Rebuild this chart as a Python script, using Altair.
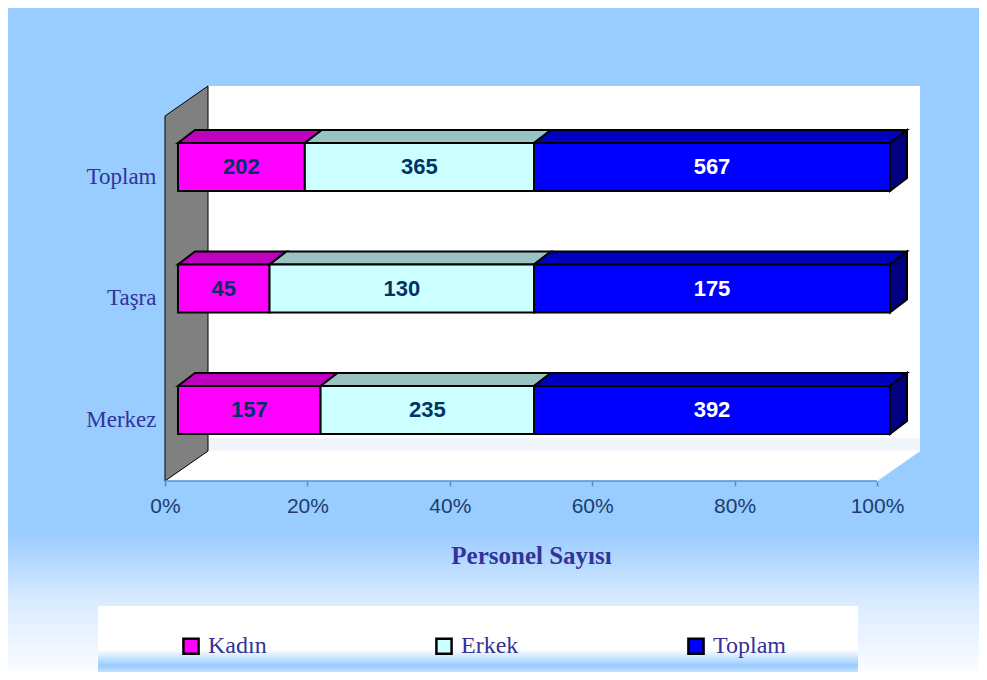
import json
import altair as alt
import pandas as pd

# ---------------- data ----------------
categories = ["Merkez", "Taşra", "Toplam"]
series = ["Kadın", "Erkek", "Toplam"]
kadin = [157, 45, 202]
erkek = [235, 130, 365]
toplam = [392, 175, 567]
x_ticks = [0, 0.2, 0.4, 0.6, 0.8, 1.0]

front_colors = ["#FF00FF", "#CCFFFF", "#0000FF"]
top_colors = ["#BF00BF", "#99C2C2", "#0000BF"]
side_color = "#000080"
label_colors = ["#003366", "#003366", "#FFFFFF"]

# ---------------- layout (pixels) ----------------
W, H = 971, 664
X0_PX = 157          # pixel of 0 %
PX_X = 712           # pixels per 100 %
CAT0_PX = 402        # pixel of first category centre
PX_Y = 121.5         # pixels between categories

x_dom = [-X0_PX / PX_X, (W - X0_PX) / PX_X]
y_dom = [(CAT0_PX - H) / PX_Y, CAT0_PX / PX_Y]


def dxu(px):
    return px / PX_X


def dyu(px):
    return px / PX_Y


DX, DY = dxu(43), dyu(30)        # wall depth
F = -dyu(71)                     # floor front
WT = dyu(324)                    # back wall top
BX = dxu(13)                     # bar front shift
BH = dyu(24)                     # bar half height
TX, TY = dxu(17), dyu(13)        # bar depth

xs = alt.Scale(domain=x_dom, nice=False, zero=False)
ys = alt.Scale(domain=y_dom, nice=False, zero=False)

SERIF = "Liberation Serif"
SANS = "Liberation Sans"
TXT = "#333399"

label_expr = json.dumps(categories, ensure_ascii=False) + "[datum.value]"

X_AXIS = alt.Axis(
    values=x_ticks, format=".0%", domain=False, grid=False,
    tickColor="#4A90D9", tickSize=5, tickWidth=1.5, offset=-(H - 473),
    labelFont=SANS, labelFontSize=21, labelColor="#1C3D6E", labelPadding=9,
    title="Personel Sayısı", titleFont=SERIF, titleFontSize=25,
    titleFontWeight="bold", titleColor=TXT, titleX=523, titleY=82,
    titleBaseline="alphabetic", zindex=1)
Y_AXIS = alt.Axis(
    values=list(range(len(categories))), labelExpr=label_expr,
    domain=False, ticks=False, tickSize=0, grid=False, labelPadding=0,
    offset=-148, labelFont=SERIF, labelFontSize=23, labelColor=TXT,
    labelOffset=9, title=None, zindex=1)

# ---------------- build tables ----------------
front_rows, poly_rows, lab_rows = [], [], []
for ci, cat in enumerate(categories):
    segs = [kadin[ci], erkek[ci], toplam[ci]]
    tot = sum(segs)
    cum = 0
    for si, s in enumerate(series):
        v = segs[si]
        a = cum / tot
        cum += v
        b = cum / tot
        front_rows.append(dict(category=cat, series=s, x1=a + BX, x2=b + BX,
                               y1=ci - BH, y2=ci + BH))
        lab_rows.append(dict(x=(a + b) / 2 + BX, y=ci, text=str(v), lc=label_colors[si]))
        pid = f"top-{ci}-{si}"
        pts = [(a + BX, ci + BH), (b + BX, ci + BH),
               (b + BX + TX, ci + BH + TY), (a + BX + TX, ci + BH + TY)]
        for k, (px, py) in enumerate(pts):
            poly_rows.append(dict(pid=pid, k=k, x=px, y=py, fill=top_colors[si]))
        if si == len(series) - 1:
            pid = f"side-{ci}"
            pts = [(b + BX, ci - BH), (b + BX + TX, ci - BH + TY),
                   (b + BX + TX, ci + BH + TY), (b + BX, ci + BH)]
            for k, (px, py) in enumerate(pts):
                poly_rows.append(dict(pid=pid, k=k, x=px, y=py, fill=side_color))

front_df = pd.DataFrame(front_rows)
poly_df = pd.DataFrame(poly_rows)
lab_df = pd.DataFrame(lab_rows)

floor_df = pd.DataFrame(dict(pid="floor", k=[0, 1, 2, 3],
                             x=[0, 1, 1 + DX, DX], y=[F, F, F + DY, F + DY]))
lwall_df = pd.DataFrame(dict(pid="lwall", k=[0, 1, 2, 3],
                             x=[0, 0, DX, DX], y=[F, WT - DY, WT, F + DY]))
bwall_df = pd.DataFrame(dict(x1=[DX], x2=[1 + DX], y1=[F + DY], y2=[WT]))
band_df = pd.DataFrame(dict(x1=[DX], x2=[1 + DX], y1=[F + DY], y2=[F + DY + dyu(13)]))
axis_df = pd.DataFrame(dict(x1=[0], x2=[1], y=[F]))
one = pd.DataFrame(dict(a=[0]))


def grad(stops):
    return alt.LinearGradient(gradient="linear",
                              stops=[alt.GradientStop(offset=o, color=c) for o, c in stops],
                              x1=0, x2=0, y1=0, y2=1)


def X(field):
    return alt.X(field, scale=xs, axis=X_AXIS)


def Y(field):
    return alt.Y(field, scale=ys, axis=Y_AXIS)


bg = alt.Chart(one).mark_rect(
    fill=grad([(0, "#99CCFF"), (0.79, "#99CCFF"), (0.89, "#D8EAFF"), (1, "#FBFDFF")])
).encode(x=alt.value(0), x2=alt.value(W), y=alt.value(0), y2=alt.value(H))

legend_box = alt.Chart(one).mark_rect(
    fill=grad([(0, "#FFFFFF"), (0.66, "#FFFFFF"), (0.9, "#99CCFF"), (1, "#C4E2FF")])
).encode(x=alt.value(90), x2=alt.value(850), y=alt.value(598), y2=alt.value(H))

bwall = alt.Chart(bwall_df).mark_rect(fill="white").encode(
    x=X("x1:Q"), x2="x2", y=Y("y1:Q"), y2="y2")

band = alt.Chart(band_df).mark_rect(fill="#F1F6FD").encode(
    x=X("x1:Q"), x2="x2", y=Y("y1:Q"), y2="y2")

floor = alt.Chart(floor_df).mark_line(interpolate="linear-closed", fill="white",
                                      stroke="white", strokeWidth=0.5).encode(
    x=X("x:Q"), y=Y("y:Q"), detail="pid:N", order="k:Q")

lwall = alt.Chart(lwall_df).mark_line(interpolate="linear-closed", fill="#808080",
                                      stroke="black", strokeWidth=1).encode(
    x=X("x:Q"), y=Y("y:Q"), detail="pid:N", order="k:Q")

axis_line = alt.Chart(axis_df).mark_rule(color="#4A90D9", strokeWidth=1.5).encode(
    x=X("x1:Q"), x2="x2", y=Y("y:Q"))

faces = alt.Chart(poly_df).mark_line(interpolate="linear-closed", stroke="black",
                                     strokeWidth=2, strokeJoin="miter").encode(
    x=X("x:Q"), y=Y("y:Q"),
    fill=alt.Fill("fill:N", scale=None), detail="pid:N", order="k:Q")

front = alt.Chart(front_df).mark_rect(stroke="black", strokeWidth=2).encode(
    x=X("x1:Q"), x2="x2", y=Y("y1:Q"), y2="y2",
    color=alt.Color("series:N", scale=alt.Scale(domain=series, range=front_colors),
                    legend=alt.Legend(
                        orient="none", legendX=171, legendY=626, direction="horizontal",
                        title=None, symbolType="square", symbolSize=230,
                        symbolStrokeColor="black", symbolStrokeWidth=2.5,
                        symbolOpacity=1, labelFont=SERIF, labelFontSize=24,
                        labelColor=TXT, labelOffset=5, columnPadding=164, zindex=1)),
)

labels = alt.Chart(lab_df).mark_text(font=SANS, fontWeight="bold", fontSize=22,
                                     baseline="middle", align="center").encode(
    x=X("x:Q"), y=Y("y:Q"),
    text="text:N", color=alt.Color("lc:N", scale=None))

chart = alt.layer(
    bg, legend_box, bwall, band, floor, lwall, axis_line, faces, front, labels
).properties(
    width=W, height=H, autosize=alt.AutoSizeParams(type="none"), padding=0,
    background="white"
).configure_view(stroke=None)

chart.save("out.html", embed_options={"renderer": "svg", "actions": False})
